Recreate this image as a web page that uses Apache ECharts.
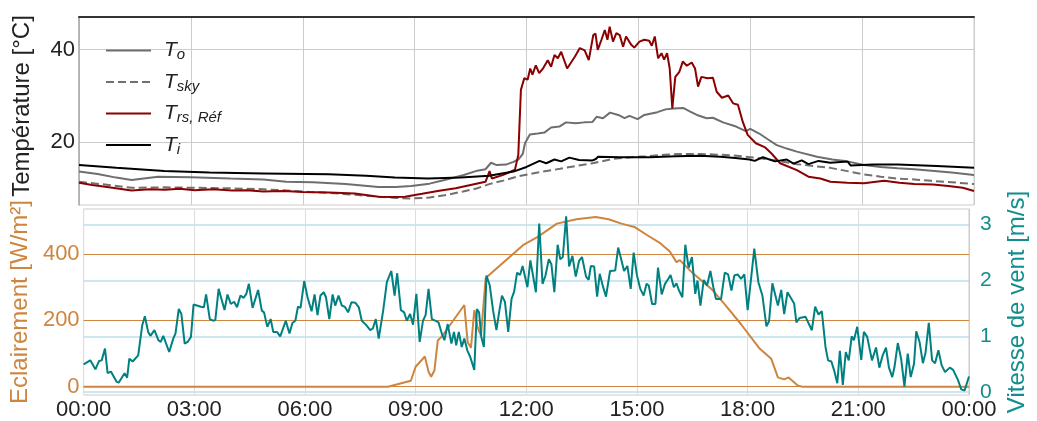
<!DOCTYPE html>
<html>
<head>
<meta charset="utf-8">
<script src="https://cdn.jsdelivr.net/npm/echarts@6/dist/echarts.min.js"></script>
<style>
  html, body { margin: 0; padding: 0; background: #fff; }
  #chart { width: 1037px; height: 421px; }
</style>
</head>
<body>
<div id="chart"></div>
<script>
// heures de la journée (0 = 00:00, 24 = 00:00 le lendemain)
const xTicks = [0, 3, 6, 9, 12, 15, 18, 21, 24];

// T_o
const toHours = [0, 0.5, 1.0, 1.41, 2.12, 3.0, 4.06, 4.94, 5.56, 6.27, 7.15, 8.03, 8.5, 8.91, 9.4, 9.8, 10.3, 10.68, 10.9, 11.05, 11.2, 11.45, 11.65, 11.78, 11.9, 11.96, 12.09, 12.3, 12.48, 12.66, 12.88, 13.06, 13.32, 13.55, 13.77, 13.88, 14.05, 14.24, 14.46, 14.63, 14.76, 14.98, 15.16, 15.51, 15.73, 15.95, 16.2, 16.39, 16.57, 16.83, 17.0, 17.27, 17.62, 17.88, 18.0, 18.24, 18.5, 18.71, 19.0, 19.25, 19.79, 20.2, 20.6, 21.05, 21.5, 21.95, 22.4, 22.86, 23.4, 23.94, 24];
const toTemp = [13.7, 13.2, 12.4, 11.9, 12.6, 12.5, 12.2, 12.0, 11.5, 11.4, 11.0, 10.4, 10.4, 10.6, 11.1, 11.9, 12.9, 13.9, 14.2, 15.6, 15.1, 15.2, 15.8, 16.3, 17.5, 19.8, 21.7, 21.9, 22.1, 23.2, 23.4, 24.3, 24.1, 24.3, 24.4, 25.5, 25.2, 26.4, 25.9, 25.2, 25.7, 25.0, 25.9, 26.5, 27.1, 27.3, 27.4, 26.6, 25.9, 25.2, 25.3, 24.3, 23.4, 22.4, 22.9, 21.9, 20.5, 19.4, 18.6, 18.0, 16.9, 16.3, 15.9, 15.1, 14.7, 14.4, 14.2, 13.9, 13.5, 13.0, 12.9];

// T_sky
const skyHours = [0, 0.7, 1.41, 2.3, 3.18, 4.0, 4.94, 5.8, 6.71, 7.4, 8.03, 8.5, 8.91, 9.4, 9.8, 10.3, 10.68, 11.0, 11.4, 11.78, 12.3, 12.9, 13.4, 13.77, 14.3, 14.8, 15.2, 15.7, 16.1, 16.6, 17.0, 17.5, 18.0, 18.6, 19.25, 19.7, 20.15, 20.6, 21.05, 21.5, 21.95, 22.4, 22.86, 23.4, 24];
const skyTemp = [11.5, 10.9, 10.2, 10.3, 10.2, 10.1, 9.9, 9.5, 9.1, 8.7, 8.3, 8.0, 7.9, 8.1, 8.6, 9.4, 10.1, 11.0, 11.8, 12.7, 13.5, 14.3, 15.0, 15.5, 16.4, 16.8, 17.0, 17.3, 17.5, 17.5, 17.4, 17.2, 16.8, 16.2, 15.3, 14.9, 14.5, 13.8, 13.1, 12.6, 12.2, 12.0, 11.7, 11.4, 11.0];

// T_rs,Réf
const rsHours = [0, 0.35, 0.8, 1.41, 1.9, 2.3, 2.7, 3.1, 3.6, 4.1, 4.5, 4.94, 5.5, 6.0, 6.7, 7.4, 8.03, 8.4, 8.74, 9.2, 9.62, 10.1, 10.5, 10.9, 11.01, 11.07, 11.38, 11.69, 11.78, 11.85, 11.94, 12.03, 12.1, 12.16, 12.25, 12.34, 12.45, 12.57, 12.66, 12.75, 12.84, 12.93, 13.09, 13.3, 13.43, 13.56, 13.67, 13.79, 13.85, 13.91, 14.01, 14.1, 14.17, 14.23, 14.32, 14.41, 14.5, 14.59, 14.67, 14.81, 14.89, 15.03, 15.16, 15.29, 15.36, 15.44, 15.53, 15.62, 15.69, 15.77, 15.84, 15.91, 15.99, 16.1, 16.19, 16.3, 16.43, 16.52, 16.6, 16.69, 16.85, 17.0, 17.1, 17.24, 17.41, 17.54, 17.67, 17.8, 17.93, 18.15, 18.4, 18.57, 18.8, 19.25, 19.56, 19.88, 20.15, 20.6, 21.05, 21.59, 22.0, 22.4, 22.9, 23.31, 23.7, 24];
const rsTemp = [11.3, 10.8, 10.3, 9.6, 9.9, 9.8, 10.0, 9.7, 9.9, 9.6, 9.7, 9.4, 9.5, 9.3, 9.2, 9.0, 8.3, 8.2, 8.3, 8.9, 9.5, 10.1, 10.8, 11.5, 13.8, 12.2, 13.0, 14.1, 17.3, 31.3, 33.8, 33.5, 35.9, 34.6, 36.6, 34.9, 36.0, 37.7, 36.3, 38.8, 38.1, 39.5, 35.9, 38.5, 40.3, 39.8, 37.7, 43.1, 43.4, 39.9, 42.1, 44.2, 42.1, 44.9, 41.7, 43.5, 43.1, 40.6, 42.8, 41.0, 40.4, 41.7, 42.1, 41.9, 40.8, 42.8, 38.1, 39.2, 37.8, 39.2, 35.9, 27.3, 34.1, 35.2, 37.4, 36.5, 37.2, 35.9, 32.0, 34.1, 33.8, 33.9, 30.9, 29.6, 30.1, 28.4, 28.1, 24.4, 21.6, 19.8, 18.9, 17.6, 15.5, 14.0, 12.6, 12.2, 11.5, 11.3, 11.2, 11.7, 11.3, 11.0, 10.9, 10.6, 10.2, 9.5];

// T_i
const tiHours = [0, 1.0, 2.29, 3.5, 4.94, 6.7, 7.7, 8.47, 9.36, 10.24, 11.0, 11.65, 12.0, 12.35, 12.53, 12.75, 12.93, 13.15, 13.41, 13.77, 13.86, 13.92, 14.5, 15.3, 16.0, 16.65, 17.2, 17.6, 17.98, 18.12, 18.34, 18.66, 18.98, 19.16, 19.38, 19.56, 19.83, 20.15, 20.51, 20.62, 20.69, 21.3, 21.95, 23.0, 24];
const tiTemp = [15.1, 14.5, 13.8, 13.5, 13.3, 13.1, 12.8, 12.4, 12.2, 12.4, 12.8, 13.7, 14.7, 16.0, 15.5, 16.3, 15.9, 16.7, 16.2, 16.1, 16.4, 16.9, 16.8, 16.8, 17.0, 17.1, 16.9, 16.6, 16.3, 16.0, 16.8, 15.9, 16.3, 15.4, 16.1, 15.3, 16.0, 15.6, 15.8, 15.8, 15.0, 15.2, 15.2, 14.9, 14.5];

// Eclairement [W/m²]
const eclHours = [0, 8.25, 8.87, 9.0, 9.25, 9.35, 9.42, 9.51, 9.6, 9.71, 10.32, 10.41, 10.5, 10.59, 10.68, 10.77, 10.9, 11.91, 12.31, 12.83, 13.36, 13.88, 14.23, 14.58, 14.93, 15.28, 15.63, 15.89, 16.07, 16.16, 16.51, 17.03, 17.38, 17.82, 18.33, 18.64, 18.82, 18.99, 19.11, 19.35, 19.48, 24];
const eclValues = [0, 0, 18, 60, 91, 45, 30, 49, 139, 151, 246, 134, 117, 230, 179, 154, 327, 426, 451, 491, 504, 511, 504, 491, 481, 456, 432, 407, 375, 381, 342, 293, 248, 188, 114, 84, 28, 22, 28, 4, 0, 0];

// Vitesse de vent [m/s]
const windHours = [0, 0.18, 0.32, 0.42, 0.49, 0.58, 0.65, 0.74, 0.89, 0.95, 1.11, 1.18, 1.24, 1.33, 1.48, 1.59, 1.66, 1.75, 1.81, 1.92, 2.03, 2.09, 2.16, 2.32, 2.43, 2.49, 2.58, 2.65, 2.74, 2.82, 2.91, 2.98, 3.18, 3.26, 3.32, 3.42, 3.51, 3.57, 3.66, 3.82, 3.9, 3.99, 4.08, 4.16, 4.25, 4.34, 4.41, 4.48, 4.58, 4.73, 4.83, 4.89, 4.98, 5.07, 5.14, 5.24, 5.33, 5.48, 5.58, 5.66, 5.74, 5.81, 5.88, 5.98,
  6.07, 6.18, 6.26, 6.34, 6.42, 6.51, 6.57, 6.66, 6.75, 6.82, 6.91, 7.0, 7.08, 7.17, 7.26, 7.37, 7.46, 7.54, 7.65, 7.77, 7.84, 7.92, 8.0, 8.12, 8.22, 8.34, 8.43, 8.5, 8.6, 8.69, 8.76, 8.85, 8.93, 9.02, 9.11, 9.2, 9.27, 9.35, 9.44, 9.53, 9.62, 9.71, 9.78, 9.87, 9.97, 10.04, 10.1, 10.17, 10.25, 10.32, 10.4, 10.48, 10.59, 10.66, 10.72, 10.78, 10.85, 10.92, 11.01, 11.1, 11.19, 11.27, 11.34, 11.42, 11.51, 11.6, 11.67, 11.75, 11.83, 11.9,
  12.03, 12.11, 12.26, 12.35, 12.44, 12.52, 12.61, 12.68, 12.76, 12.85, 12.92, 12.99, 13.08, 13.16, 13.25, 13.34, 13.43, 13.51, 13.62, 13.69, 13.75, 13.84, 13.92, 13.99, 14.08, 14.16, 14.27, 14.41, 14.49, 14.56, 14.65, 14.74, 14.83, 14.91, 15.0, 15.09, 15.18, 15.26, 15.32, 15.41, 15.5, 15.57, 15.67, 15.76, 15.85, 15.91, 16.0, 16.07, 16.14, 16.23, 16.31, 16.4, 16.49, 16.58, 16.64, 16.72, 16.81, 16.9, 16.99, 17.07, 17.14, 17.28, 17.38, 17.47, 17.56, 17.64, 17.73, 17.82, 17.91,
  18.0, 18.18, 18.29, 18.4, 18.51, 18.58, 18.67, 18.82, 18.91, 18.99, 19.08, 19.26, 19.32, 19.41, 19.57, 19.74, 19.83, 19.92, 20.01, 20.11, 20.18, 20.27, 20.34, 20.43, 20.5, 20.58, 20.66, 20.74, 20.82, 20.88, 20.97, 21.08, 21.15, 21.24, 21.37, 21.48, 21.57, 21.66, 21.75, 21.83, 21.92, 21.98, 22.07, 22.16, 22.25, 22.34, 22.42, 22.51, 22.57, 22.66, 22.75, 22.82, 22.91, 23.0, 23.08, 23.17, 23.26, 23.35, 23.48, 23.57, 23.7, 23.79, 23.88, 24.0];
const windValues = [0.50, 0.57, 0.41, 0.56, 0.57, 0.78, 0.34, 0.37, 0.19, 0.17, 0.34, 0.26, 0.60, 0.55, 0.66, 1.20, 1.36, 1.08, 1.01, 1.11, 0.93, 0.90, 1.01, 0.72, 0.96, 1.05, 1.49, 1.40, 0.87, 0.90, 0.99, 1.57, 1.53, 1.52, 1.75, 1.31, 1.28, 1.29, 1.85, 1.47, 1.75, 1.58, 1.62, 1.52, 1.73, 1.69, 1.76, 1.94, 1.51, 1.83, 1.46, 1.43, 1.17, 1.31, 1.08, 1.08, 1.00, 1.28, 1.05, 1.24, 1.28, 1.53, 1.51, 1.99,
  1.70, 1.45, 1.75, 1.38, 1.73, 1.79, 1.70, 1.31, 1.75, 1.55, 1.73, 1.55, 1.53, 1.43, 1.61, 1.60, 1.52, 1.28, 1.21, 1.11, 1.14, 1.31, 0.96, 1.46, 1.97, 2.17, 1.73, 2.13, 1.47, 1.43, 1.28, 1.40, 1.21, 1.76, 0.90, 1.28, 1.38, 1.85, 1.31, 1.28, 1.25, 1.05, 0.93, 1.22, 0.87, 1.08, 0.84, 1.08, 0.81, 0.96, 0.75, 0.63, 0.40, 1.49, 1.43, 0.99, 0.81, 2.09, 1.91, 1.46, 1.11, 1.46, 1.73, 1.62, 1.08, 1.67, 1.80, 2.14, 2.10, 2.26,
  1.88, 2.36, 1.79, 3.02, 1.94, 2.09, 2.38, 2.29, 1.79, 2.64, 2.38, 2.42, 3.15, 2.25, 2.44, 2.07, 2.35, 2.42, 2.07, 2.01, 2.26, 2.25, 1.71, 2.12, 1.89, 1.71, 2.17, 2.18, 2.59, 2.41, 2.17, 2.26, 1.85, 2.50, 2.09, 1.85, 1.73, 1.94, 1.91, 1.58, 1.58, 2.23, 1.75, 1.94, 2.03, 2.10, 1.88, 1.95, 1.82, 1.70, 2.64, 2.23, 2.42, 1.76, 2.00, 1.55, 2.01, 1.91, 2.17, 1.88, 1.67, 1.67, 2.14, 2.11, 1.82, 2.09, 2.11, 2.03, 2.11,
  1.47, 2.57, 1.97, 1.73, 1.18, 1.27, 1.95, 1.55, 1.83, 1.40, 1.79, 1.59, 1.25, 1.33, 1.35, 1.11, 1.53, 1.39, 1.45, 0.81, 0.57, 0.55, 0.40, 0.16, 0.74, 0.13, 0.72, 0.57, 1.00, 0.93, 1.17, 0.58, 1.08, 0.99, 0.57, 0.80, 0.44, 0.66, 0.80, 0.44, 0.27, 0.45, 0.88, 0.60, 0.10, 0.69, 0.27, 0.51, 1.09, 0.90, 0.52, 0.70, 1.24, 0.57, 0.52, 0.75, 0.48, 0.36, 0.44, 0.40, 0.22, 0.05, 0.03, 0.28];

const tempTicks = [20, 40];
const eclTicks = [0, 200, 400];
const windTicks = [0, 1, 2, 3];

function pairs(xs, ys) {
  return xs.map((x, i) => [x, ys[i]]);
}

const FONT = '"Liberation Sans", Arial, sans-serif';
const ORANGE = '#cd853f';
const TEAL = '#008080';

const legendRich = {
  t: { fontSize: 21, fontStyle: 'italic', fontFamily: FONT, color: '#222', lineHeight: 24, padding: [0, 0, 0, 8] },
  s: { fontSize: 15, fontStyle: 'italic', fontFamily: FONT, color: '#222', lineHeight: 10, verticalAlign: 'bottom' }
};
const legendSub = { 'To': 'o', 'Tsky': 'sky', 'Trs': 'rs, Réf', 'Ti': 'i' };

let myChart = echarts.init(document.getElementById('chart'), null, { renderer: 'canvas' });
let option = {
  animation: false,
  backgroundColor: '#fff',
  textStyle: { fontFamily: FONT },
  grid: [
    { left: 79, top: 17, width: 895, height: 188, show: true, borderColor: '#cccccc', borderWidth: 1 },
    { left: 79, top: 209, width: 895, height: 188, show: true, borderColor: '#cccccc', borderWidth: 1 }
  ],
  legend: {
    orient: 'vertical',
    left: 100,
    top: 35,
    itemWidth: 45,
    itemHeight: 14,
    itemGap: 9,
    itemStyle: { opacity: 0 },
    data: ['To', 'Tsky', 'Trs', 'Ti'],
    formatter: function (name) {
      return '{t|T}{s|' + legendSub[name] + '}';
    },
    textStyle: { rich: legendRich }
  },
  xAxis: [
    {
      type: 'value', gridIndex: 0, min: 0, max: 24, interval: 3,
      axisLine: { show: false }, axisTick: { show: false }, axisLabel: { show: false },
      splitLine: { show: true, lineStyle: { color: '#cccccc', width: 1 } }
    },
    {
      type: 'value', gridIndex: 1, min: 0, max: 24, interval: 3,
      axisLine: { show: false }, axisTick: { show: false },
      axisLabel: {
        show: true, color: '#222', fontSize: 22, fontFamily: FONT, margin: 4,
        showMinLabel: true, showMaxLabel: true,
        formatter: function (v) {
          let h = v % 24;
          return (h < 10 ? '0' : '') + h + ':00';
        }
      },
      splitLine: { show: true, lineStyle: { color: '#dddddd', width: 1 } }
    },
    {
      type: 'value', gridIndex: 0, min: 0, max: 24, position: 'top',
      axisLine: { show: true, lineStyle: { color: '#333333', width: 2 } },
      axisTick: { show: false }, axisLabel: { show: false }, splitLine: { show: false }
    }
  ],
  yAxis: [
    {
      type: 'value', gridIndex: 0, min: 6.5, max: 47,
      name: 'Température [°C]', nameLocation: 'middle', nameRotate: 90, nameGap: 45,
      nameTextStyle: { color: '#222', fontSize: 24, fontFamily: FONT, padding: [0, 0, 0, 10] },
      axisLine: { show: false },
      axisTick: { show: false, customValues: tempTicks },
      axisLabel: { color: '#222', fontSize: 22, fontFamily: FONT, margin: 4, customValues: tempTicks },
      splitLine: { show: true, lineStyle: { color: '#cccccc', width: 1 } }
    },
    {
      type: 'value', gridIndex: 0, min: 0, max: 1, position: 'right',
      axisLine: { show: true, lineStyle: { color: '#aaaaaa', width: 1.5 } },
      axisTick: { show: false }, axisLabel: { show: false }, splitLine: { show: false }
    },
    {
      type: 'value', gridIndex: 1, min: -25, max: 535,
      name: 'Eclairement [W/m²]', nameLocation: 'middle', nameRotate: 90, nameGap: 45,
      nameTextStyle: { color: ORANGE, fontSize: 24, fontFamily: FONT },
      axisLine: { show: false },
      axisTick: { show: false, customValues: eclTicks },
      axisLabel: { color: ORANGE, fontSize: 22, fontFamily: FONT, margin: 4, customValues: eclTicks },
      splitLine: { show: true, lineStyle: { color: ORANGE, width: 1.2 } },
      z: 3
    },
    {
      type: 'value', gridIndex: 1, min: -0.05, max: 3.28, position: 'right',
      name: 'Vitesse de vent [m/s]', nameLocation: 'middle', nameRotate: 90, nameGap: 36,
      nameTextStyle: { color: '#138d8d', fontSize: 24, fontFamily: FONT },
      axisLine: { show: true, lineStyle: { color: '#cccccc', width: 1 } },
      axisTick: { show: false, customValues: windTicks },
      axisLabel: { color: '#138d8d', fontSize: 21, fontFamily: FONT, margin: 11, customValues: windTicks },
      splitLine: { show: true, lineStyle: { color: 'rgba(173,216,230,0.8)', width: 1.5 } }
    }
  ],
  series: [
    {
      name: 'To', type: 'line', xAxisIndex: 0, yAxisIndex: 0, showSymbol: false, symbol: 'none',
      lineStyle: { color: '#6e6e6e', width: 2 }, itemStyle: { color: '#6e6e6e' },
      data: pairs(toHours, toTemp)
    },
    {
      name: 'Tsky', type: 'line', xAxisIndex: 0, yAxisIndex: 0, showSymbol: false, symbol: 'none',
      lineStyle: { color: '#707070', width: 2, type: [8, 4] }, itemStyle: { color: '#707070' },
      data: pairs(skyHours, skyTemp)
    },
    {
      name: 'Trs', type: 'line', xAxisIndex: 0, yAxisIndex: 0, showSymbol: false, symbol: 'none',
      lineStyle: { color: '#8b0000', width: 2 }, itemStyle: { color: '#8b0000' },
      data: pairs(rsHours, rsTemp)
    },
    {
      name: 'Ti', type: 'line', xAxisIndex: 0, yAxisIndex: 0, showSymbol: false, symbol: 'none',
      lineStyle: { color: '#000000', width: 2 }, itemStyle: { color: '#000000' },
      data: pairs(tiHours, tiTemp)
    },
    {
      name: 'Eclairement', type: 'line', xAxisIndex: 1, yAxisIndex: 2, showSymbol: false, symbol: 'none',
      lineStyle: { color: ORANGE, width: 2 }, itemStyle: { color: ORANGE },
      data: pairs(eclHours, eclValues)
    },
    {
      name: 'Vent', type: 'line', xAxisIndex: 1, yAxisIndex: 3, showSymbol: false, symbol: 'none',
      lineStyle: { color: TEAL, width: 2 }, itemStyle: { color: TEAL },
      data: pairs(windHours, windValues)
    }
  ]
};
myChart.setOption(option);
</script>
</body>
</html>
